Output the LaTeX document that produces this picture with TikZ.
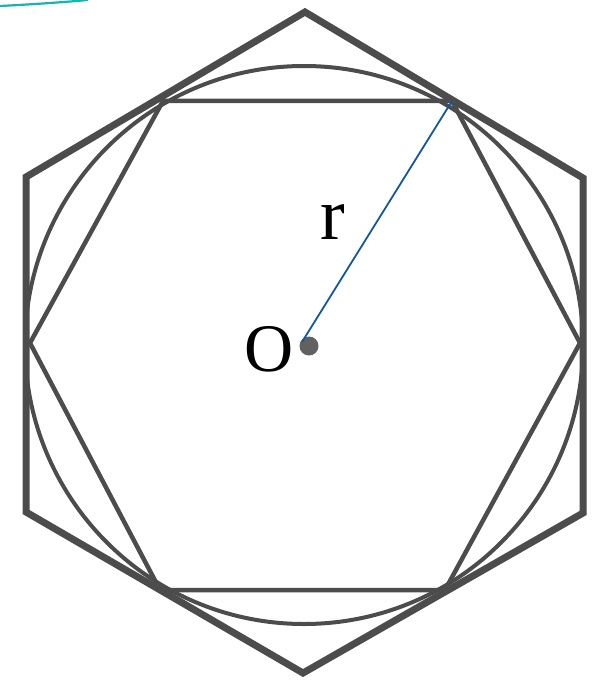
\documentclass[tikz,border=0pt]{standalone}
\usepackage{fontspec}
\setmainfont{Liberation Serif}
\begin{document}
\begin{tikzpicture}[x=1pt,y=-1pt,
  outerhex/.style={draw=black!70,line width=7pt,line join=miter},
  innerhex/.style={draw=black!70,line width=4.5pt,line join=miter},
  incircle/.style={draw=black!70,line width=4pt},
  radius line/.style={draw={rgb,255:red,16;green,88;blue,160},line width=1.8pt},
  label/.style={inner sep=0pt,text=black}]
\useasboundingbox (0,0) rectangle (596,682);
% teal arc in corner
\draw[draw={rgb,255:red,24;green,178;blue,178},line width=2.2pt] (0,6) .. controls (30,4.5) and (60,2.5) .. (88,0);
% outer hexagon
\coordinate (T) at (305,12);
\coordinate (UR) at (583,178);
\coordinate (LR) at (583,513);
\coordinate (B) at (303,673);
\coordinate (LL) at (26,512);
\coordinate (UL) at (26,177);
\draw[outerhex] (T) -- (UR) -- (LR) -- (B) -- (LL) -- (UL) -- cycle;
% circle
\coordinate (C) at (304,345);
\draw[incircle] (C) circle[radius=279];
% inner hexagon
\coordinate (iL) at (30,343);
\coordinate (iTL) at (163,101);
\coordinate (iTR) at (452,101);
\coordinate (iR) at (580,343);
\coordinate (iBR) at (445,590);
\coordinate (iBL) at (160,590);
\draw[innerhex] (iL) -- (iTL) -- (iTR) -- (iR) -- (iBR) -- (iBL) -- cycle;
% centre dot and radius
\node[circle,fill=black!62,minimum size=19pt,inner sep=0pt] (dot) at (309,346) {};
\coordinate (O) at (302,342);
\draw[radius line] (O) -- (iTR);
% labels
\node[label,font=\fontsize{68}{68}\selectfont] (Olab) at (269,349) {O};
\node[label,font=\fontsize{74}{74}\selectfont,anchor=base] (rlab) at (333,239) {r};
\end{tikzpicture}
\end{document}
